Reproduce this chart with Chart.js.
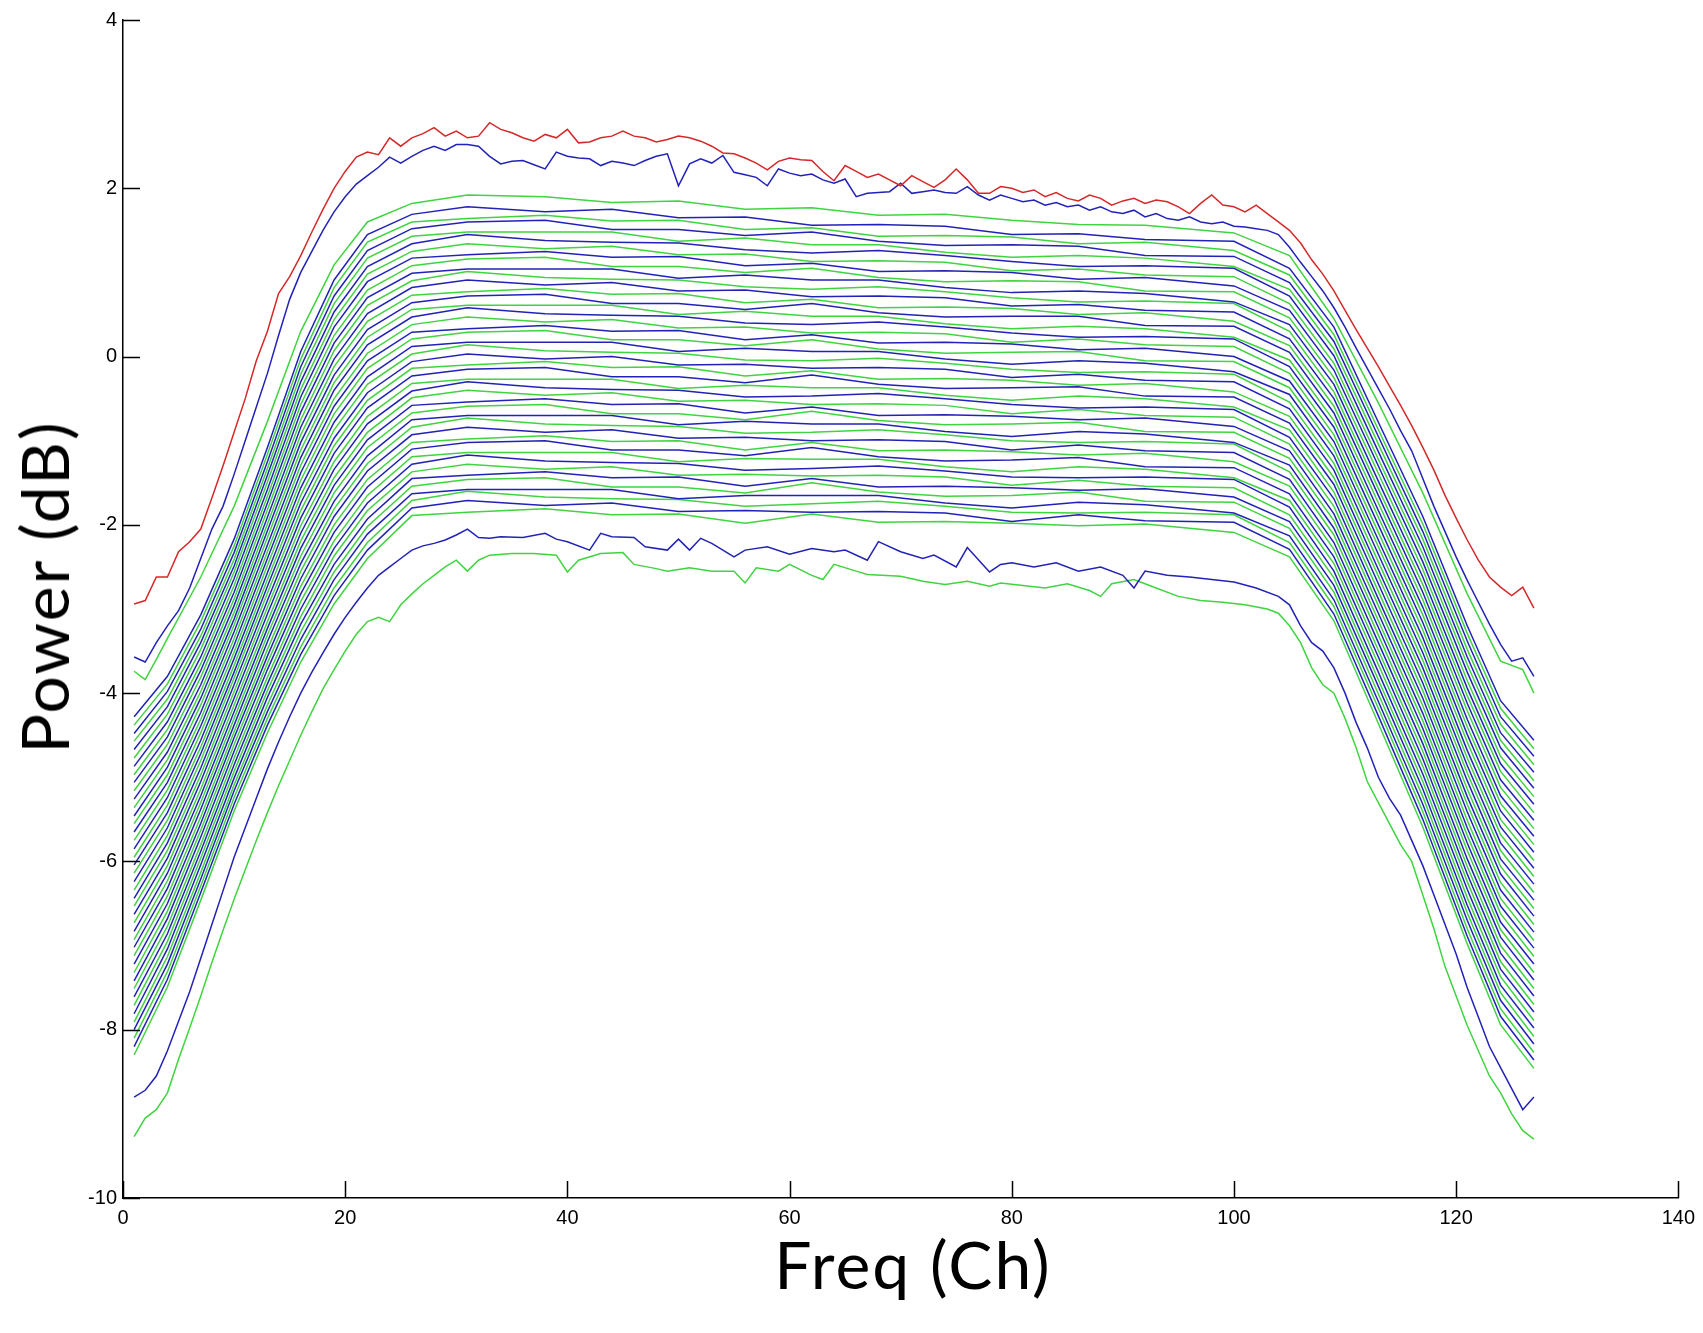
<!DOCTYPE html>
<html lang="en">

<head>
  <meta charset="UTF-8" />
  <title>Power vs Freq</title>
  <script src="https://cdn.jsdelivr.net/npm/chart.js"></script>
  <style>
    html, body { margin: 0; padding: 0; background: #fff; }
    #wrap { position: relative; width: 1703px; height: 1333px; }
    #chart { position: absolute; left: 0; top: 0; }
    .axis-title { position: absolute; font-family: Lato, 'Open Sans', sans-serif; font-size: 66px; letter-spacing: 2px; color: #000; white-space: nowrap; line-height: 1; }
    #xTitle { left: 913px; top: 1264px; transform: translate(-50%, -50%); }
    #yTitle { left: 44px; top: 587px; transform: translate(-50%, -50%) rotate(-90deg); }
  </style>
</head>

<body>
  <div id="wrap">
    <canvas id="chart" width="1703" height="1333"></canvas>
    <div class="axis-title" id="xTitle">Freq (Ch)</div>
    <div class="axis-title" id="yTitle">Power (dB)</div>
  </div>

  <script>
    // tick labels
    const xTickValues = [0, 20, 40, 60, 80, 100, 120, 140];
    const yTickValues = [-10, -8, -6, -4, -2, 0, 2, 4];

    // top red trace, one value per channel 1..127
    const redDb = [
      -2.94, -2.90, -2.62, -2.62, -2.32, -2.20, -2.05, -1.68, -1.30, -0.90,
      -0.50, -0.05, 0.30, 0.75, 0.95, 1.20, 1.48, 1.75, 2.00, 2.20,
      2.37, 2.43, 2.40, 2.60, 2.50, 2.60, 2.65, 2.72, 2.62, 2.68,
      2.60, 2.62, 2.78, 2.70, 2.66, 2.60, 2.56, 2.64, 2.60, 2.70,
      2.54, 2.55, 2.60, 2.62, 2.68, 2.62, 2.60, 2.55, 2.58, 2.62,
      2.60, 2.56, 2.50, 2.42, 2.41, 2.36, 2.30, 2.22, 2.32, 2.36,
      2.34, 2.33, 2.20, 2.09, 2.27, 2.20, 2.13, 2.17, 2.10, 2.03,
      2.15, 2.08, 2.01, 2.10, 2.23, 2.10, 1.94, 1.94, 2.02, 2.00,
      1.95, 1.98, 1.90, 1.95, 1.88, 1.85, 1.92, 1.88, 1.80, 1.85,
      1.88, 1.82, 1.86, 1.84, 1.78, 1.70, 1.82, 1.92, 1.80, 1.78,
      1.72, 1.80, 1.70, 1.60, 1.50, 1.35, 1.15, 0.98, 0.78, 0.55,
      0.32, 0.10, -0.12, -0.35, -0.58, -0.82, -1.08, -1.35, -1.65, -1.92,
      -2.18, -2.42, -2.62, -2.74, -2.84, -2.74, -2.99
    ];

    // upper blue trace, channel 1..127
    const blueTopDb = [
      -3.57, -3.63, -3.40, -3.20, -3.02, -2.75, -2.40, -2.05, -1.78, -1.40,
      -1.00, -0.60, -0.20, 0.25, 0.68, 1.00, 1.25, 1.50, 1.72, 1.90,
      2.05, 2.15, 2.25, 2.37, 2.30, 2.38, 2.45, 2.50, 2.45, 2.52,
      2.52, 2.50, 2.38, 2.29, 2.32, 2.33, 2.28, 2.23, 2.43, 2.38,
      2.36, 2.35, 2.27, 2.32, 2.30, 2.27, 2.33, 2.38, 2.41, 2.03,
      2.29, 2.35, 2.30, 2.39, 2.19, 2.16, 2.13, 2.03, 2.23, 2.18,
      2.15, 2.17, 2.10, 2.06, 2.11, 1.90, 1.94, 1.95, 1.96, 2.06,
      1.94, 1.96, 1.98, 1.95, 1.94, 2.02, 1.92, 1.86, 1.92, 1.88,
      1.84, 1.86, 1.80, 1.83, 1.78, 1.80, 1.74, 1.78, 1.72, 1.70,
      1.74, 1.66, 1.70, 1.64, 1.62, 1.66, 1.60, 1.58, 1.60, 1.55,
      1.54, 1.52, 1.50, 1.45, 1.30, 1.12, 0.95, 0.78, 0.58, 0.35,
      0.10, -0.14, -0.38, -0.62, -0.88, -1.12, -1.45, -1.78, -2.08, -2.38,
      -2.66, -2.92, -3.18, -3.42, -3.62, -3.58, -3.80
    ];

    // first green trace under it
    const topGreenCh = [1, 2, 3, 4, 7, 10, 13, 16, 19, 22, 26, 31, 38, 44, 50, 56, 62, 68, 74, 80, 86, 92, 100, 105, 109, 113, 117, 121, 124, 126, 127];
    const topGreenDb = [-3.74, -3.84, -3.60, -3.35, -2.62, -1.78, -0.77, 0.30, 1.09, 1.60, 1.82, 1.92, 1.90, 1.83, 1.85, 1.75, 1.77, 1.68, 1.69, 1.62, 1.57, 1.56, 1.47, 1.20, 0.45, -0.55, -1.62, -2.82, -3.62, -3.72, -4.00];

    // dense bundle, read at these channels; rows top to bottom, blue/green alternating
    const bandCh = [1, 4, 7, 10, 13, 16, 19, 22, 26, 31, 38, 44, 50, 56, 62, 68, 74, 80, 86, 92, 100, 105, 109, 113, 117, 121, 124, 127];
    const bandDb = [
      [-4.28, -3.80, -3.07, -2.17, -1.08, 0.06, 0.91, 1.45, 1.69, 1.78, 1.72, 1.75, 1.65, 1.66, 1.56, 1.57, 1.55, 1.45, 1.46, 1.39, 1.37, 1.05, 0.35, -0.78, -1.90, -3.20, -4.09, -4.56],
      [-4.38, -3.89, -3.15, -2.25, -1.16, -0.03, 0.82, 1.36, 1.60, 1.64, 1.68, 1.61, 1.62, 1.51, 1.53, 1.43, 1.44, 1.42, 1.34, 1.36, 1.26, 0.97, 0.26, -0.87, -1.99, -3.29, -4.18, -4.66],
      [-4.48, -3.98, -3.24, -2.33, -1.25, -0.12, 0.72, 1.26, 1.52, 1.60, 1.62, 1.51, 1.51, 1.44, 1.48, 1.37, 1.32, 1.33, 1.31, 1.20, 1.19, 0.88, 0.18, -0.95, -2.08, -3.38, -4.28, -4.75],
      [-4.57, -4.07, -3.32, -2.41, -1.33, -0.21, 0.63, 1.17, 1.43, 1.48, 1.48, 1.48, 1.37, 1.41, 1.33, 1.33, 1.24, 1.18, 1.20, 1.17, 1.07, 0.80, 0.09, -1.04, -2.17, -3.48, -4.37, -4.85],
      [-4.67, -4.16, -3.40, -2.49, -1.41, -0.30, 0.53, 1.07, 1.34, 1.45, 1.38, 1.36, 1.35, 1.27, 1.23, 1.26, 1.20, 1.13, 1.07, 1.08, 1.05, 0.72, 0.01, -1.13, -2.26, -3.57, -4.47, -4.94],
      [-4.77, -4.25, -3.48, -2.56, -1.49, -0.39, 0.44, 0.98, 1.25, 1.34, 1.28, 1.31, 1.21, 1.22, 1.13, 1.14, 1.12, 1.02, 1.04, 0.97, 0.95, 0.63, -0.08, -1.22, -2.35, -3.66, -4.56, -5.04],
      [-4.87, -4.34, -3.57, -2.64, -1.58, -0.48, 0.35, 0.89, 1.17, 1.21, 1.25, 1.18, 1.19, 1.08, 1.11, 1.01, 1.02, 1.00, 0.92, 0.94, 0.84, 0.55, -0.16, -1.30, -2.44, -3.75, -4.65, -5.13],
      [-4.97, -4.43, -3.65, -2.72, -1.66, -0.57, 0.25, 0.79, 1.08, 1.16, 1.18, 1.07, 1.07, 1.00, 1.05, 0.94, 0.89, 0.90, 0.89, 0.78, 0.77, 0.46, -0.25, -1.39, -2.53, -3.85, -4.75, -5.23],
      [-5.06, -4.52, -3.73, -2.80, -1.74, -0.66, 0.16, 0.70, 0.99, 1.04, 1.04, 1.04, 0.93, 0.97, 0.91, 0.91, 0.82, 0.76, 0.78, 0.75, 0.65, 0.38, -0.33, -1.48, -2.62, -3.94, -4.84, -5.32],
      [-5.16, -4.61, -3.81, -2.88, -1.82, -0.75, 0.07, 0.61, 0.90, 1.01, 0.94, 0.92, 0.91, 0.83, 0.80, 0.83, 0.77, 0.70, 0.65, 0.66, 0.63, 0.30, -0.42, -1.57, -2.71, -4.03, -4.93, -5.42],
      [-5.26, -4.70, -3.90, -2.96, -1.91, -0.84, -0.03, 0.51, 0.82, 0.91, 0.85, 0.88, 0.78, 0.79, 0.71, 0.72, 0.70, 0.60, 0.62, 0.55, 0.53, 0.21, -0.50, -1.65, -2.80, -4.12, -5.03, -5.51],
      [-5.36, -4.79, -3.98, -3.04, -1.99, -0.93, -0.12, 0.42, 0.73, 0.77, 0.81, 0.74, 0.75, 0.64, 0.68, 0.58, 0.59, 0.57, 0.50, 0.52, 0.42, 0.13, -0.59, -1.74, -2.89, -4.21, -5.12, -5.61],
      [-5.46, -4.88, -4.06, -3.12, -2.07, -1.02, -0.22, 0.32, 0.64, 0.72, 0.74, 0.63, 0.63, 0.56, 0.63, 0.52, 0.47, 0.48, 0.48, 0.37, 0.36, 0.05, -0.67, -1.83, -2.98, -4.31, -5.22, -5.70],
      [-5.55, -4.97, -4.14, -3.19, -2.15, -1.11, -0.31, 0.23, 0.56, 0.61, 0.61, 0.61, 0.50, 0.54, 0.48, 0.48, 0.39, 0.33, 0.36, 0.33, 0.23, -0.04, -0.76, -1.91, -3.07, -4.40, -5.31, -5.80],
      [-5.65, -5.06, -4.23, -3.27, -2.24, -1.20, -0.40, 0.14, 0.47, 0.58, 0.51, 0.49, 0.48, 0.40, 0.38, 0.41, 0.35, 0.28, 0.23, 0.24, 0.21, -0.12, -0.84, -2.00, -3.16, -4.49, -5.40, -5.89],
      [-5.75, -5.15, -4.31, -3.35, -2.32, -1.29, -0.50, 0.04, 0.38, 0.47, 0.41, 0.44, 0.34, 0.35, 0.28, 0.29, 0.27, 0.17, 0.21, 0.14, 0.12, -0.20, -0.93, -2.09, -3.25, -4.58, -5.50, -5.99],
      [-5.85, -5.24, -4.39, -3.43, -2.40, -1.38, -0.59, -0.05, 0.29, 0.33, 0.37, 0.30, 0.31, 0.20, 0.26, 0.16, 0.17, 0.15, 0.08, 0.10, 0.00, -0.29, -1.01, -2.18, -3.34, -4.68, -5.59, -6.08],
      [-5.95, -5.33, -4.47, -3.51, -2.48, -1.47, -0.68, -0.14, 0.21, 0.29, 0.31, 0.20, 0.20, 0.13, 0.20, 0.09, 0.04, 0.05, 0.06, -0.05, -0.06, -0.37, -1.10, -2.26, -3.43, -4.77, -5.68, -6.18],
      [-6.04, -5.42, -4.56, -3.59, -2.57, -1.56, -0.78, -0.24, 0.12, 0.17, 0.17, 0.17, 0.06, 0.10, 0.06, 0.06, -0.03, -0.09, -0.05, -0.08, -0.18, -0.45, -1.18, -2.35, -3.52, -4.86, -5.78, -6.27],
      [-6.14, -5.51, -4.64, -3.67, -2.65, -1.65, -0.87, -0.33, 0.03, 0.14, 0.07, 0.05, 0.04, -0.04, -0.05, -0.02, -0.08, -0.15, -0.19, -0.18, -0.21, -0.54, -1.27, -2.44, -3.61, -4.95, -5.87, -6.37],
      [-6.24, -5.60, -4.72, -3.75, -2.73, -1.74, -0.97, -0.43, -0.06, 0.03, -0.03, 0.00, -0.10, -0.09, -0.14, -0.13, -0.15, -0.25, -0.21, -0.28, -0.30, -0.62, -1.35, -2.53, -3.70, -5.04, -5.97, -6.46],
      [-6.34, -5.69, -4.80, -3.82, -2.81, -1.83, -1.06, -0.52, -0.14, -0.10, -0.06, -0.13, -0.12, -0.23, -0.17, -0.27, -0.26, -0.28, -0.34, -0.32, -0.42, -0.71, -1.44, -2.61, -3.79, -5.14, -6.06, -6.56],
      [-6.44, -5.78, -4.89, -3.90, -2.90, -1.92, -1.15, -0.61, -0.23, -0.15, -0.13, -0.24, -0.24, -0.31, -0.22, -0.33, -0.38, -0.37, -0.36, -0.47, -0.48, -0.79, -1.52, -2.70, -3.88, -5.23, -6.15, -6.65],
      [-6.53, -5.87, -4.97, -3.98, -2.98, -2.01, -1.25, -0.71, -0.32, -0.27, -0.27, -0.27, -0.38, -0.34, -0.37, -0.37, -0.46, -0.52, -0.47, -0.50, -0.60, -0.87, -1.61, -2.79, -3.97, -5.32, -6.25, -6.75],
      [-6.63, -5.96, -5.05, -4.06, -3.06, -2.10, -1.34, -0.80, -0.41, -0.30, -0.37, -0.39, -0.40, -0.48, -0.47, -0.44, -0.50, -0.57, -0.61, -0.60, -0.63, -0.96, -1.69, -2.88, -4.06, -5.41, -6.34, -6.84],
      [-6.73, -6.05, -5.14, -4.14, -3.15, -2.19, -1.44, -0.90, -0.49, -0.40, -0.46, -0.43, -0.53, -0.52, -0.57, -0.56, -0.58, -0.68, -0.63, -0.70, -0.72, -1.04, -1.78, -2.96, -4.15, -5.51, -6.44, -6.94],
      [-6.83, -6.14, -5.22, -4.22, -3.23, -2.28, -1.53, -0.99, -0.58, -0.54, -0.50, -0.57, -0.56, -0.67, -0.60, -0.70, -0.69, -0.71, -0.75, -0.73, -0.83, -1.12, -1.87, -3.05, -4.24, -5.60, -6.53, -7.03],
      [-6.93, -6.23, -5.30, -4.30, -3.31, -2.37, -1.62, -1.08, -0.67, -0.59, -0.57, -0.68, -0.68, -0.75, -0.65, -0.76, -0.81, -0.80, -0.78, -0.89, -0.90, -1.21, -1.95, -3.14, -4.33, -5.69, -6.62, -7.13],
      [-7.02, -6.32, -5.38, -4.38, -3.39, -2.46, -1.72, -1.18, -0.75, -0.70, -0.70, -0.70, -0.81, -0.77, -0.80, -0.80, -0.89, -0.95, -0.89, -0.92, -1.02, -1.29, -2.04, -3.22, -4.42, -5.78, -6.72, -7.22],
      [-7.12, -6.41, -5.47, -4.46, -3.48, -2.55, -1.81, -1.27, -0.84, -0.73, -0.80, -0.82, -0.83, -0.91, -0.90, -0.87, -0.93, -1.00, -1.02, -1.01, -1.04, -1.37, -2.12, -3.31, -4.51, -5.87, -6.81, -7.32],
      [-7.22, -6.50, -5.55, -4.53, -3.56, -2.64, -1.90, -1.36, -0.93, -0.84, -0.90, -0.87, -0.97, -0.96, -1.00, -0.99, -1.01, -1.11, -1.05, -1.12, -1.14, -1.46, -2.21, -3.40, -4.60, -5.97, -6.90, -7.41],
      [-7.32, -6.59, -5.63, -4.61, -3.64, -2.73, -2.00, -1.46, -1.02, -0.98, -0.94, -1.01, -1.00, -1.11, -1.02, -1.12, -1.11, -1.13, -1.17, -1.15, -1.25, -1.54, -2.29, -3.49, -4.69, -6.06, -7.00, -7.51],
      [-7.42, -6.68, -5.71, -4.69, -3.72, -2.82, -2.09, -1.55, -1.10, -1.02, -1.00, -1.11, -1.11, -1.18, -1.08, -1.19, -1.24, -1.23, -1.20, -1.31, -1.32, -1.63, -2.38, -3.57, -4.78, -6.15, -7.09, -7.60],
      [-7.51, -6.77, -5.80, -4.77, -3.81, -2.91, -2.19, -1.65, -1.19, -1.14, -1.14, -1.14, -1.25, -1.21, -1.22, -1.22, -1.31, -1.37, -1.31, -1.34, -1.44, -1.71, -2.46, -3.66, -4.87, -6.24, -7.19, -7.70],
      [-7.61, -6.86, -5.88, -4.85, -3.89, -3.00, -2.28, -1.74, -1.28, -1.17, -1.24, -1.26, -1.27, -1.35, -1.33, -1.30, -1.36, -1.43, -1.44, -1.43, -1.46, -1.79, -2.55, -3.75, -4.96, -6.33, -7.28, -7.79],
      [-7.71, -6.95, -5.96, -4.93, -3.97, -3.09, -2.37, -1.83, -1.37, -1.28, -1.34, -1.31, -1.41, -1.40, -1.42, -1.41, -1.43, -1.53, -1.47, -1.54, -1.56, -1.88, -2.63, -3.84, -5.05, -6.43, -7.37, -7.89],
      [-7.81, -7.04, -6.04, -5.01, -4.05, -3.18, -2.47, -1.93, -1.45, -1.41, -1.37, -1.44, -1.43, -1.54, -1.45, -1.55, -1.54, -1.56, -1.59, -1.57, -1.67, -1.96, -2.72, -3.92, -5.14, -6.52, -7.47, -7.98],
      [-7.91, -7.13, -6.13, -5.09, -4.14, -3.27, -2.56, -2.02, -1.54, -1.46, -1.44, -1.55, -1.55, -1.62, -1.50, -1.61, -1.66, -1.65, -1.61, -1.72, -1.73, -2.04, -2.80, -4.01, -5.23, -6.61, -7.56, -8.08],
      [-8.00, -7.22, -6.21, -5.16, -4.22, -3.36, -2.65, -2.11, -1.63, -1.58, -1.58, -1.58, -1.69, -1.65, -1.65, -1.65, -1.74, -1.80, -1.73, -1.76, -1.86, -2.13, -2.89, -4.10, -5.32, -6.70, -7.65, -8.17],
      [-8.10, -7.31, -6.29, -5.24, -4.30, -3.45, -2.75, -2.21, -1.71, -1.60, -1.67, -1.69, -1.70, -1.78, -1.75, -1.72, -1.78, -1.85, -1.86, -1.85, -1.88, -2.21, -2.97, -4.18, -5.41, -6.80, -7.75, -8.27],
      [-8.20, -7.40, -6.37, -5.32, -4.38, -3.54, -2.84, -2.30, -1.80, -1.71, -1.77, -1.74, -1.84, -1.83, -1.85, -1.84, -1.86, -1.96, -1.88, -1.95, -1.97, -2.29, -3.06, -4.27, -5.50, -6.89, -7.84, -8.36],
      [-8.30, -7.49, -6.46, -5.40, -4.47, -3.63, -2.94, -2.40, -1.89, -1.85, -1.81, -1.88, -1.87, -1.98, -1.87, -1.97, -1.96, -1.98, -2.01, -1.99, -2.09, -2.38, -3.14, -4.36, -5.59, -6.98, -7.94, -8.46]
    ];

    // lower blue trace
    const bottomBlueCh = [
      1, 2, 3, 4, 5, 6, 7, 8, 9, 10, 11, 12, 13, 14, 15, 16, 17, 18, 19, 20,
      21, 22, 23, 24, 25, 26, 27, 28, 29, 30, 31, 32, 33, 34,
      36, 38, 39, 40, 42, 43, 44, 46, 47, 49, 50, 51, 52, 53, 55, 56, 58, 60, 62, 64, 65, 67, 68, 70, 72, 73, 75, 76, 78, 79,
      80, 82, 84, 86, 88, 90, 91, 92, 94, 96, 98, 100, 102, 104,
      105, 106, 107, 108, 109, 110, 111, 112, 113, 114, 115, 116, 117, 118, 119, 120, 121, 122, 123, 124, 125, 126, 127
    ];
    const bottomBlueDb = [
      -8.80, -8.72, -8.55, -8.25, -7.90, -7.55, -7.15, -6.75, -6.35, -5.95, -5.60, -5.25, -4.90, -4.58, -4.28, -4.00, -3.75, -3.52, -3.30, -3.10,
      -2.92, -2.75, -2.60, -2.50, -2.40, -2.30, -2.25, -2.22, -2.18, -2.12, -2.05, -2.15, -2.16, -2.14,
      -2.15, -2.10, -2.17, -2.20, -2.30, -2.10, -2.14, -2.15, -2.26, -2.30, -2.17, -2.30, -2.16, -2.22, -2.38, -2.30, -2.26, -2.35, -2.28, -2.32, -2.30, -2.42, -2.20, -2.32, -2.40, -2.36, -2.50, -2.27, -2.56, -2.47,
      -2.45, -2.50, -2.45, -2.55, -2.50, -2.60, -2.75, -2.55, -2.60, -2.62, -2.65, -2.68, -2.75, -2.85,
      -2.95, -3.20, -3.40, -3.50, -3.70, -4.00, -4.35, -4.65, -5.00, -5.25, -5.45, -5.75, -6.05, -6.40, -6.75, -7.10, -7.50, -7.85, -8.20, -8.45, -8.70, -8.95, -8.80
    ];

    // lowest green trace
    const bottomGreenCh = [
      1, 2, 3, 4, 5, 6, 7, 8, 9, 10, 11, 12, 13, 14, 15, 16, 17, 18, 19, 20,
      21, 22, 23, 24, 25, 26, 27, 28, 29, 30, 31,
      32, 33, 35, 37, 39, 40, 41, 43, 45, 46, 48, 49, 51, 53, 55, 56, 57, 59, 60, 62, 63, 64, 66, 67, 70, 72, 74, 76, 78, 79,
      81, 83, 85, 87, 88, 89, 91, 93, 95, 97, 99, 101, 103, 104,
      105, 106, 107, 108, 109, 110, 111, 112, 113, 114, 115, 116, 117, 118, 119, 120, 121, 122, 123, 124, 125, 126, 127
    ];
    const bottomGreenDb = [
      -9.27, -9.05, -8.95, -8.75, -8.35, -7.98, -7.60, -7.20, -6.82, -6.45, -6.10, -5.75, -5.42, -5.10, -4.80, -4.50, -4.22, -3.95, -3.72, -3.50,
      -3.30, -3.15, -3.10, -3.15, -2.95, -2.82, -2.70, -2.60, -2.50, -2.42, -2.55,
      -2.42, -2.36, -2.34, -2.34, -2.36, -2.56, -2.42, -2.34, -2.33, -2.47, -2.52, -2.55, -2.51, -2.55, -2.55, -2.69, -2.51, -2.55, -2.47, -2.60, -2.65, -2.47, -2.55, -2.59, -2.61, -2.67, -2.71, -2.67, -2.73, -2.69,
      -2.72, -2.75, -2.70, -2.78, -2.85, -2.70, -2.65, -2.75, -2.85, -2.90, -2.92, -2.95, -3.00, -3.05,
      -3.20, -3.40, -3.70, -3.90, -4.00, -4.30, -4.65, -5.05, -5.30, -5.55, -5.80, -6.00, -6.40, -6.80, -7.25, -7.60, -7.95, -8.25, -8.55, -8.75, -9.00, -9.20, -9.30
    ];

    const RED = 'rgb(214, 40, 40)';
    const BLUE = 'rgb(34, 34, 184)';
    const GREEN = 'rgb(64, 212, 64)';

    function toPoints(ch, db) {
      const n = Math.min(ch.length, db.length);
      const out = [];
      for (let i = 0; i < n; i++) out.push({ x: ch[i], y: db[i] });
      return out;
    }
    const perChannel = db => db.map((v, i) => ({ x: i + 1, y: v }));

    function line(data, color) {
      return { data, borderColor: color, borderWidth: 1.5, pointRadius: 0, tension: 0, fill: false };
    }

    const datasets = [line(perChannel(redDb), RED)];
    datasets.push(line(perChannel(blueTopDb), BLUE));
    datasets.push(line(toPoints(topGreenCh, topGreenDb), GREEN));
    bandDb.forEach((row, n) => {
      datasets.push(line(toPoints(bandCh, row), n % 2 === 0 ? BLUE : GREEN));
    });
    datasets.push(line(toPoints(bottomBlueCh, bottomBlueDb), BLUE));
    datasets.push(line(toPoints(bottomGreenCh, bottomGreenDb), GREEN));

    // matlab style ticks pointing into the plot
    const innerTicks = {
      id: 'innerTicks',
      afterDraw(chart) {
        const { ctx, chartArea, scales: { x, y } } = chart;
        ctx.save();
        ctx.strokeStyle = '#000';
        ctx.lineWidth = 1.5;
        ctx.beginPath();
        xTickValues.forEach(v => {
          const px = Math.round(x.getPixelForValue(v)) + 0.5;
          ctx.moveTo(px, chartArea.bottom);
          ctx.lineTo(px, chartArea.bottom - 17);
        });
        yTickValues.forEach(v => {
          const py = Math.round(y.getPixelForValue(v)) + 0.5;
          ctx.moveTo(chartArea.left, py);
          ctx.lineTo(chartArea.left + 17, py);
        });
        ctx.stroke();
        ctx.restore();
      }
    };

    const tickFont = { family: "'Liberation Sans', Arial, sans-serif", size: 20 };

    new Chart(document.getElementById('chart'), {
      type: 'line',
      data: { datasets },
      options: {
        responsive: false,
        animation: false,
        layout: { padding: { top: 20, right: 22, left: 0, bottom: 0 } },
        plugins: { legend: { display: false }, tooltip: { enabled: false } },
        scales: {
          x: {
            type: 'linear',
            min: 0,
            max: 140,
            afterBuildTicks: s => { s.ticks = xTickValues.map(v => ({ value: v })); },
            afterFit: s => { s.height = 135; },
            ticks: { color: '#000', font: tickFont, padding: 8, maxRotation: 0, autoSkip: false },
            grid: { display: false, drawTicks: false },
            border: { display: true, color: '#000', width: 1.5 }
          },
          y: {
            type: 'linear',
            min: -10,
            max: 4,
            afterBuildTicks: s => { s.ticks = yTickValues.map(v => ({ value: v })); },
            afterFit: s => { s.width = 123; },
            ticks: { color: '#000', font: tickFont, padding: 6, autoSkip: false },
            grid: { display: false, drawTicks: false },
            border: { display: true, color: '#000', width: 1.5 }
          }
        }
      },
      plugins: [innerTicks]
    });
  </script>
</body>

</html>
